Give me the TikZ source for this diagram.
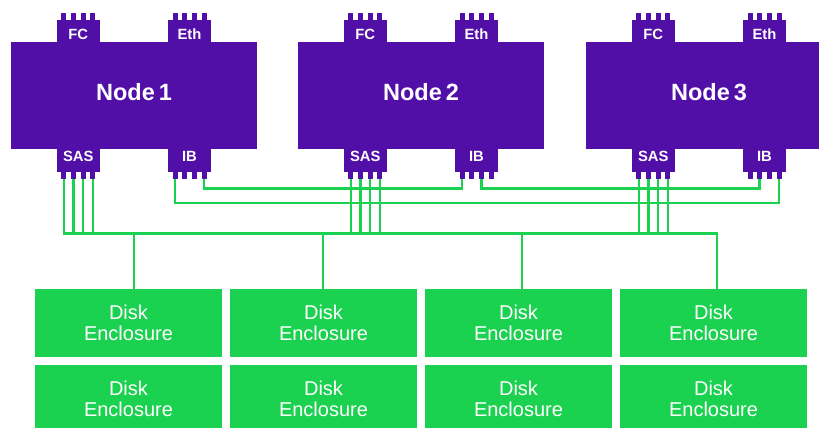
\documentclass[tikz,border=0pt]{standalone}
\usepackage{fontspec}
\setmainfont{Liberation Sans}
\definecolor{npurple}{RGB}{81,15,168}
\definecolor{dgreen}{RGB}{27,209,80}
\begin{document}
\begin{tikzpicture}[x=1pt,y=-1pt,
  srv/.style={fill=npurple, draw=none, minimum width=246pt, minimum height=107pt,
    inner sep=0pt, text=white, text depth=7pt, font=\bfseries\fontsize{23.5}{26}\selectfont},
  tab/.style={fill=npurple, draw=none, minimum width=42.5pt, minimum height=22pt,
    inner sep=0pt, text=white, font=\bfseries\fontsize{14.8}{16}\selectfont},
  tabtop/.style={text height=17.5pt, text depth=0pt},
  tabbot/.style={text height=10.6pt, text depth=8.2pt, minimum height=22.5pt},
  pin/.style={fill=npurple, draw=none, minimum width=5pt, minimum height=7.8pt, inner sep=0pt},
  disk/.style={fill=dgreen, draw=none, minimum width=187pt, minimum height=68pt,
    inner sep=0pt, text=white, align=center, font=\fontsize{20}{21.3}\selectfont},
  wire/.style={draw=dgreen, line width=2.4pt}]
\useasboundingbox (0,0) rectangle (819,428);
\clip (0,0) rectangle (819,428);

% servers with tabs and pins
\foreach \i/\l in {1/11, 2/298, 3/586}{
  \node[srv] (n\i) at (\l+123,95.5) {Node\,\i};
  \node[tab,tabtop] (n\i-fc)  at (\l+67.25,31.25) {FC};
  \node[tab,tabtop] (n\i-eth) at (\l+178.5,31.25) {Eth};
  \node[tab,tabbot] (n\i-sas) at (\l+67.25,160.5) {SAS};
  \node[tab,tabbot] (n\i-ib)  at (\l+178.5,160.5) {IB};
  \foreach \k/\dx in {0/-14.5, 1/-4.83, 2/4.83, 3/14.5}{
    \node[pin] (n\i-fc-\k)  at ([shift={(\dx,-14.25)}]n\i-fc.center) {};
    \node[pin] (n\i-eth-\k) at ([shift={(\dx,-14.25)}]n\i-eth.center) {};
    \node[pin] (n\i-sas-\k) at ([shift={(\dx,14.75)}]n\i-sas.center) {};
    \node[pin] (n\i-ib-\k)  at ([shift={(\dx,14.75)}]n\i-ib.center) {};
  }
}

% disk enclosures
\foreach \j/\x in {1/128.5, 2/323.5, 3/518.5, 4/713.5}{
  \node[disk] (d\j) at (\x,323) {Disk\\Enclosure};
  \pgfmathtruncatemacro{\jj}{\j+4}
  \node[disk] (d\jj) at (\x,399) {Disk\\Enclosure};
}

% SAS bus
\coordinate (t1) at (134,233.5);
\coordinate (t2) at (323,233.5);
\coordinate (t3) at (522,233.5);
\coordinate (t4) at (717,233.5);
\draw[wire] (n1-sas-0.south) |- (t4) -- (t4 |- d4.north);
\foreach \t/\d in {t1/d1, t2/d2, t3/d3}{
  \draw[wire] (\t) -- (\t |- \d.north);
}
\foreach \i in {1,2,3}{
  \foreach \k in {0,1,2,3}{
    \draw[wire] (n\i-sas-\k.south) -- (n\i-sas-\k.south |- t1);
  }
}

% IB links
\coordinate (ibA) at (0,188.5);
\coordinate (ibB) at (0,203);
\draw[wire] (n1-ib-3.south) |- (n2-ib-0.south |- ibA) -- (n2-ib-0.south);
\draw[wire] (n2-ib-2.south) |- (n3-ib-1.south |- ibA) -- (n3-ib-1.south);
\draw[wire] (n1-ib-0.south) |- (n3-ib-3.south |- ibB) -- (n3-ib-3.south);
\end{tikzpicture}
\end{document}
